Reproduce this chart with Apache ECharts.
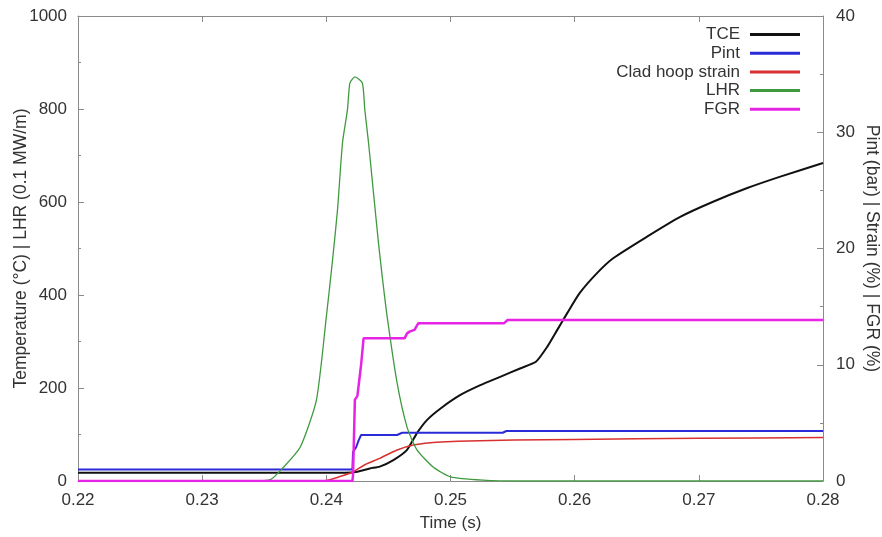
<!DOCTYPE html>
<html>
<head>
<meta charset="utf-8">
<script src="https://cdn.jsdelivr.net/npm/echarts@6/dist/echarts.min.js"></script>
<style>html,body{margin:0;padding:0;background:#fff;}#chart{width:882px;height:537px;}</style>
</head>
<body>
<div id="chart"></div>
<script>
// ---- data ----
const xTicks = [0.22, 0.23, 0.24, 0.25, 0.26, 0.27, 0.28];
const leftTicks = [0, 200, 400, 600, 800, 1000];
const rightTicks = [0, 10, 20, 30, 40];

const seriesNames = ['TCE', 'Pint', 'Clad hoop strain', 'LHR', 'FGR'];

// TCE (°C), left axis
const tceTime  = [0.220, 0.2415, 0.2425, 0.2435, 0.2443, 0.2454, 0.2465, 0.2473, 0.2481, 0.2492, 0.2508, 0.2524, 0.2540, 0.2556, 0.2569, 0.2578, 0.2586, 0.2594, 0.2604, 0.2618, 0.2631, 0.2658, 0.2685, 0.2711, 0.2739, 0.2765, 0.2800];
const tceValue = [18,    18,     20,     27,     31,     45,     67,     103,    131,    156,    185,    206,    224,    242,    257,    289,    325,    361,    404,    447,    479,    525,    568,    600,    630,    654,    684];

// Pint (bar), right axis
const pintTime  = [0.220, 0.2421, 0.24215, 0.2424, 0.2426, 0.2428, 0.2457, 0.2461, 0.2542, 0.2545, 0.2800];
const pintValue = [1.0,   1.0,    2.5,     2.9,    3.5,    3.96,   3.96,   4.15,   4.15,   4.3,    4.3];

// Clad hoop strain (%), right axis
const strainTime  = [0.220, 0.2395, 0.2400, 0.2410, 0.2421, 0.2431, 0.2443, 0.2457, 0.2470, 0.2484, 0.2497, 0.2515, 0.2551, 0.2600, 0.2700, 0.2800];
const strainValue = [0,     0,      0.05,   0.35,   0.75,   1.4,    1.95,   2.67,   3.1,    3.3,    3.38,   3.45,   3.53,   3.58,   3.67,   3.75];

// LHR (0.1 MW/m), left axis
const lhrTime  = [0.220, 0.2340, 0.2355, 0.2365, 0.2379, 0.2392, 0.2400, 0.2405, 0.2409, 0.2413, 0.2417, 0.2419, 0.2423, 0.2429, 0.2431, 0.2434, 0.2438, 0.2442, 0.2445, 0.2449, 0.2457, 0.2465, 0.2473, 0.2486, 0.2500, 0.2526, 0.2556, 0.2800];
const lhrValue = [0,     0,      3,      28,     73,     174,    353,    475,    583,    727,    798,    856,    869,    856,    798,    727,    619,    512,    440,    353,    211,    116,    67,     30,     9,      2,      0,      0];

// FGR (%), right axis
const fgrTime  = [0.220, 0.2421, 0.24215, 0.2423, 0.2425, 0.2428, 0.2430, 0.2463, 0.2465, 0.2467, 0.2471, 0.2474, 0.2543, 0.2546, 0.2800];
const fgrValue = [0,     0,      0.5,     7.0,    7.3,    10.0,   12.27,  12.27,  12.7,   12.85,  13.0,   13.56,  13.56,  13.85,  13.85];

function pairs(t, v) { return t.map((x, i) => [x, v[i]]); }

const textColor = '#333';
const axisColor = '#8a8a8a';
const fontFamily = '"Liberation Sans", Arial, sans-serif';

const chart = echarts.init(document.getElementById('chart'));
const option = {
  backgroundColor: '#fff',
  animation: false,
  textStyle: { fontFamily: fontFamily, color: textColor },
  grid: { left: 78, right: 59, top: 16, bottom: 56, containLabel: false, outerBoundsMode: 'none' },
  legend: {
    orient: 'vertical',
    right: 77,
    top: 21,
    align: 'right',
    icon: 'rect',
    itemWidth: 50,
    itemHeight: 3,
    itemGap: 1.7,
    textStyle: { fontSize: 17, color: textColor, fontFamily: fontFamily, padding: [0, 5, 0, 0] },
    data: seriesNames
  },
  xAxis: [{
    type: 'value',
    min: xTicks[0], max: xTicks[xTicks.length - 1], interval: 0.01,
    name: 'Time (s)', nameLocation: 'middle', nameGap: 34, nameMoveOverlap: false,
    nameTextStyle: { fontSize: 17, color: textColor },
    axisLine: { onZero: false, lineStyle: { color: axisColor, width: 1 } },
    axisTick: { inside: true, length: 6, lineStyle: { color: axisColor } },
    axisLabel: { fontSize: 17, color: textColor, margin: 11, formatter: v => v.toFixed(2) },
    splitLine: { show: false }
  }, {
    type: 'value', position: 'top',
    min: xTicks[0], max: xTicks[xTicks.length - 1], interval: 0.01,
    axisLine: { onZero: false, lineStyle: { color: axisColor, width: 1 } },
    axisTick: { inside: true, length: 6, lineStyle: { color: axisColor } },
    axisLabel: { show: false },
    splitLine: { show: false }
  }],
  yAxis: [{
    type: 'value',
    min: leftTicks[0], max: leftTicks[leftTicks.length - 1], interval: 200,
    name: 'Temperature (°C) | LHR (0.1 MW/m)', nameLocation: 'middle', nameGap: 48, nameMoveOverlap: false,
    nameTextStyle: { fontSize: 17.5, color: textColor },
    axisLine: { show: true, onZero: false, lineStyle: { color: axisColor, width: 1 } },
    axisTick: { show: true, inside: true, length: 6, lineStyle: { color: axisColor } },
    minorTick: { show: true, splitNumber: 2, length: 3, lineStyle: { color: axisColor } },
    axisLabel: { fontSize: 17, color: textColor, margin: 11, formatter: v => String(v) },
    splitLine: { show: false }
  }, {
    type: 'value', position: 'right',
    min: rightTicks[0], max: rightTicks[rightTicks.length - 1], interval: 10,
    name: 'Pint (bar) | Strain (%) | FGR (%)', nameLocation: 'middle', nameGap: 40, nameMoveOverlap: false,
    nameRotate: -90,
    nameTextStyle: { fontSize: 17.5, color: textColor },
    axisLine: { show: true, onZero: false, lineStyle: { color: axisColor, width: 1 } },
    axisTick: { show: true, inside: true, length: 6, lineStyle: { color: axisColor } },
    minorTick: { show: true, splitNumber: 2, length: 3, lineStyle: { color: axisColor } },
    axisLabel: { fontSize: 17, color: textColor, margin: 13, formatter: v => String(v) },
    splitLine: { show: false }
  }],
  series: [{
    name: 'TCE', type: 'line', yAxisIndex: 0, showSymbol: false,
    smooth: 0.2,
    itemStyle: { color: '#111' }, lineStyle: { color: '#111', width: 2 },
    data: pairs(tceTime, tceValue)
  }, {
    name: 'Pint', type: 'line', yAxisIndex: 1, showSymbol: false,
    itemStyle: { color: '#2a2ad8' }, lineStyle: { color: '#2a2ad8', width: 2 },
    data: pairs(pintTime, pintValue)
  }, {
    name: 'Clad hoop strain', type: 'line', yAxisIndex: 1, showSymbol: false,
    smooth: 0.2,
    itemStyle: { color: '#d83030' }, lineStyle: { color: '#d83030', width: 1.5 },
    data: pairs(strainTime, strainValue)
  }, {
    name: 'LHR', type: 'line', yAxisIndex: 0, showSymbol: false,
    smooth: 0.2,
    itemStyle: { color: '#3f9a3f' }, lineStyle: { color: '#3f9a3f', width: 1.3 },
    data: pairs(lhrTime, lhrValue)
  }, {
    name: 'FGR', type: 'line', yAxisIndex: 1, showSymbol: false,
    itemStyle: { color: '#e524e5' }, lineStyle: { color: '#e524e5', width: 2.5 },
    data: pairs(fgrTime, fgrValue)
  }]
};
chart.setOption(option);
</script>
</body>
</html>
